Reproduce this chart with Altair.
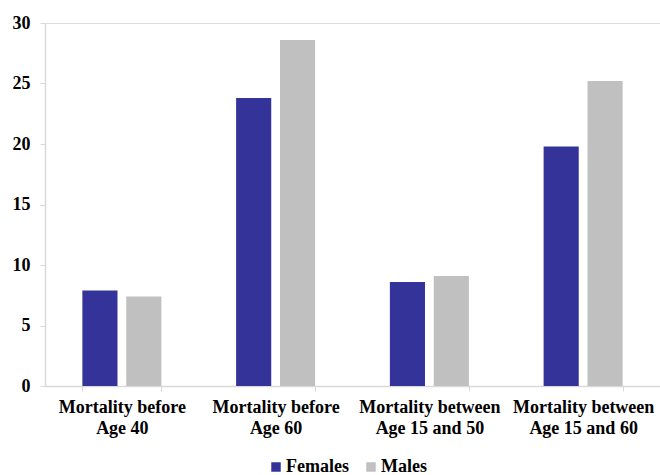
import altair as alt
import pandas as pd

# Mortality rates by age bracket and sex
categories = [
    "Mortality before|Age 40",
    "Mortality before|Age 60",
    "Mortality between|Age 15 and 50",
    "Mortality between|Age 15 and 60",
]
females = [7.9, 23.8, 8.6, 19.8]
males = [7.4, 28.6, 9.1, 25.2]
series = ["Females", "Males"]
colors = ["#333399", "#C0C0C0"]

rows = []
for cat, f, m in zip(categories, females, males):
    rows.append({"category": cat, "sex": "Females", "value": f})
    rows.append({"category": cat, "sex": "Males", "value": m})
df = pd.DataFrame(rows)

FONT = "'Times New Roman', 'Liberation Serif', 'DejaVu Serif', serif"

chart = (
    alt.Chart(df)
    .mark_bar()
    .encode(
        x=alt.X(
            "category:N",
            sort=categories,
            title=None,
            scale=alt.Scale(paddingInner=0.486, paddingOuter=0.243),
            axis=alt.Axis(
                labelAngle=0,
                labelExpr="split(datum.label, '|')",
                labelFont=FONT,
                labelFontWeight="bold",
                labelFontSize=18,
                labelColor="black",
                labelLineHeight=21,
                labelPadding=7,
                labelLimit=200,
                tickBand="extent",
                tickSize=5,
                tickColor="#d9d9d9",
                domainColor="#d9d9d9",
                domainWidth=1.5,
            ),
        ),
        xOffset=alt.XOffset(
            "sex:N", sort=series, scale=alt.Scale(paddingInner=0.2, paddingOuter=0)
        ),
        y=alt.Y(
            "value:Q",
            title=None,
            scale=alt.Scale(domain=[0, 30], nice=False),
            axis=alt.Axis(
                values=[0, 5, 10, 15, 20, 25, 30],
                grid=False,
                labelFont=FONT,
                labelFontWeight="bold",
                labelFontSize=18,
                labelColor="black",
                labelPadding=10,
                tickSize=5,
                tickColor="#d9d9d9",
                domainColor="#d9d9d9",
                domainWidth=1.5,
            ),
        ),
        color=alt.Color(
            "sex:N",
            sort=series,
            scale=alt.Scale(domain=series, range=colors),
            legend=alt.Legend(
                title=None,
                orient="none",
                legendX=222,
                legendY=435,
                direction="horizontal",
                symbolType="square",
                symbolSize=90,
                symbolStrokeWidth=0,
                labelFont=FONT,
                labelFontWeight="bold",
                labelFontSize=18,
                labelColor="black",
                labelOffset=1,
                columnPadding=13,
            ),
        ),
    )
    .properties(
        width=615,
        height=363,
        autosize=alt.AutoSizeParams(type="none"),
        padding={"left": 45, "top": 23, "right": 0, "bottom": 89},
    )
    .configure_view(stroke=None)
    .configure(background="white")
)

chart.save("out.html", embed_options={"renderer": "svg", "actions": False})
